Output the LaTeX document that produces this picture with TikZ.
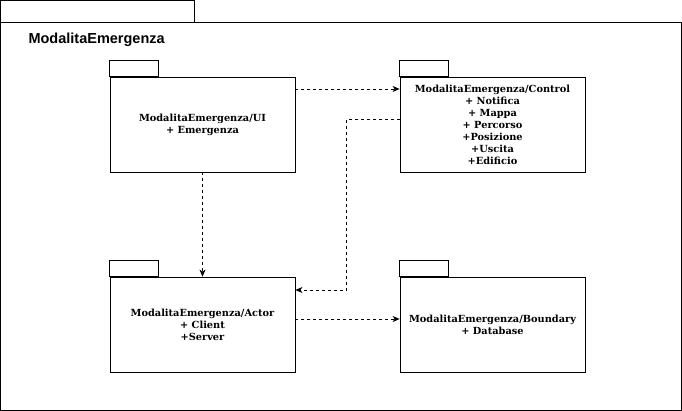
\documentclass[tikz,border=0pt]{standalone}
\usepackage{fontspec}
\setmainfont{DejaVu Serif}
\newfontfamily\titlefont{Liberation Sans}
\usetikzlibrary{arrows,arrows.meta,positioning}
\tikzset{
pkg/.style={draw, line width=0.8pt, minimum width=185pt, minimum height=95pt, inner sep=0pt, align=center, font=\bfseries\fontsize{9.8}{12}\selectfont},
dep/.style={line width=0.8pt, dash pattern=on 3pt off 3pt, -{Stealth[length=7pt,width=6pt,inset=2pt]}}
}

\begin{document}
\begin{tikzpicture}[x=1pt, y=-1pt]
\useasboundingbox (0,0) rectangle (682,411);
\draw[line width=0.8pt] (0.5,0.5) rectangle (194,22.5);
\draw[line width=0.8pt] (0.5,22.5) rectangle (681.5,410.5);
\node[anchor=west, font=\titlefont\bfseries\fontsize{14.5}{17}\selectfont] (title) at (25,40) {ModalitaEmergenza};
\node[pkg] (ui) at (202.5,124.5) {ModalitaEmergenza/UI\\+ Emergenza};
\node[pkg] (ctrl) at (492.5,124.5) {ModalitaEmergenza/Control\\+ Notifica\\+ Mappa\\+ Percorso\\+Posizione\\+Uscita\\+Edificio};
\node[pkg] (actor) at (202.5,324.5) {ModalitaEmergenza/Actor\\+ Client\\+Server};
\node[pkg] (bnd) at (492.5,324.5) {ModalitaEmergenza/Boundary\\+ Database};
\foreach \p in {ui,ctrl,actor,bnd}
  \draw[line width=0.8pt] (\p.north west) rectangle ++(49,-16);
\draw[dep] ([yshift=35.5pt]ui.east) -- ([yshift=35.5pt]ctrl.west);
\draw[dep] (ui.south) -- (actor.north);
\draw[dep] ([yshift=5.5pt]ctrl.west) -- ++(-53,0) |- ([yshift=34.5pt]actor.east);
\draw[dep] ([yshift=5.5pt]actor.east) -- ([yshift=5.5pt]bnd.west);
\end{tikzpicture}
\end{document}
